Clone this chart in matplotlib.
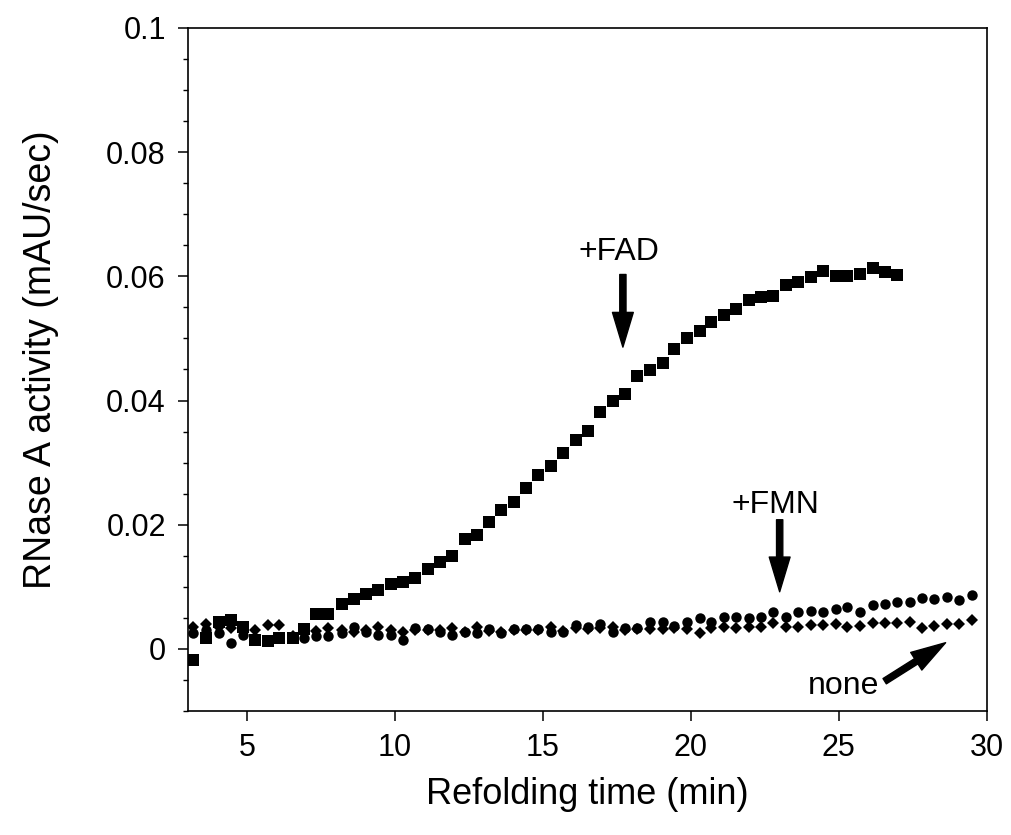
import matplotlib
matplotlib.use("Agg")
import matplotlib.pyplot as plt
from matplotlib.ticker import MultipleLocator

plt.rcParams['font.family'] = ['Liberation Sans', 'DejaVu Sans']

# sampling times (min)
time = [3.16, 3.61, 4.04, 4.45, 4.85, 5.26, 5.69, 6.08, 6.54, 6.93,
        7.32, 7.74, 8.20, 8.60, 9.01, 9.43, 9.86, 10.27, 10.68, 11.10,
        11.51, 11.93, 12.35, 12.77, 13.19, 13.58, 14.01, 14.44, 14.83, 15.26,
        15.69, 16.11, 16.52, 16.94, 17.36, 17.77, 18.19, 18.61, 19.04, 19.44,
        19.86, 20.29, 20.69, 21.11, 21.54, 21.96, 22.36, 22.79, 23.20, 23.62,
        24.05, 24.48, 24.89, 25.29, 25.71, 26.14, 26.55, 26.98, 27.40, 27.81,
        28.23, 28.65, 29.07, 29.49]

# +FAD (squares), stops at ~27 min
fad = [-0.0018, 0.0017, 0.0044, 0.0047, 0.0036, 0.0015, 0.0012, 0.0018, 0.0018, 0.0032,
       0.0056, 0.0056, 0.0073, 0.0081, 0.0088, 0.0095, 0.0104, 0.0108, 0.0115, 0.0129,
       0.0140, 0.0150, 0.0177, 0.0184, 0.0205, 0.0223, 0.0237, 0.0259, 0.0280, 0.0294,
       0.0316, 0.0336, 0.0351, 0.0382, 0.0400, 0.0410, 0.0440, 0.0449, 0.0460, 0.0483,
       0.0501, 0.0512, 0.0526, 0.0538, 0.0548, 0.0562, 0.0567, 0.0568, 0.0586, 0.0591,
       0.0599, 0.0609, 0.0601, 0.0601, 0.0604, 0.0613, 0.0607, 0.0602]

# +FMN (circles)
fmn = [0.0025, 0.0030, 0.0025, 0.0009, 0.0022, 0.0018, 0.0012, 0.0019, 0.0018, 0.0018,
       0.0020, 0.0020, 0.0025, 0.0036, 0.0028, 0.0023, 0.0022, 0.0015, 0.0034, 0.0032,
       0.0028, 0.0023, 0.0028, 0.0025, 0.0032, 0.0025, 0.0032, 0.0032, 0.0032, 0.0027,
       0.0027, 0.0039, 0.0036, 0.0040, 0.0027, 0.0034, 0.0034, 0.0044, 0.0043, 0.0037,
       0.0044, 0.0050, 0.0043, 0.0052, 0.0052, 0.0049, 0.0052, 0.0059, 0.0052, 0.0060,
       0.0061, 0.0059, 0.0064, 0.0067, 0.0059, 0.0071, 0.0073, 0.0075, 0.0076, 0.0082,
       0.0081, 0.0084, 0.0078, 0.0087]

# none (diamonds)
none = [0.0036, 0.0040, 0.0036, 0.0034, 0.0033, 0.0031, 0.0039, 0.0039, 0.0020, 0.0025,
        0.0029, 0.0034, 0.0030, 0.0028, 0.0030, 0.0036, 0.0030, 0.0028, 0.0030, 0.0030,
        0.0031, 0.0034, 0.0027, 0.0036, 0.0029, 0.0028, 0.0030, 0.0031, 0.0030, 0.0036,
        0.0029, 0.0033, 0.0032, 0.0033, 0.0035, 0.0031, 0.0032, 0.0032, 0.0032, 0.0034,
        0.0032, 0.0025, 0.0033, 0.0036, 0.0034, 0.0036, 0.0036, 0.0041, 0.0036, 0.0036,
        0.0039, 0.0039, 0.0040, 0.0035, 0.0037, 0.0041, 0.0042, 0.0042, 0.0044, 0.0034,
        0.0037, 0.0040, 0.0040, 0.0047]

x_ticks = [5, 10, 15, 20, 25, 30]
y_ticks = [0, 0.02, 0.04, 0.06, 0.08, 0.1]
y_tick_labels = ['0', '0.02', '0.04', '0.06', '0.08', '0.1']

fig = plt.figure(figsize=(10.11, 8.35), dpi=100)
ax = fig.add_axes([0.186, 0.1485, 0.79, 0.818])

ax.plot(time[:len(fad)], fad, 's', color='black', ms=8.3, mew=0)
ax.plot(time, fmn, 'o', color='black', ms=7.5, mew=0)
ax.plot(time, none, 'D', color='black', ms=5.8, mew=0)

ax.set_xlim(3, 30)
ax.set_ylim(-0.01, 0.1)
ax.set_xticks(x_ticks)
ax.set_yticks(y_ticks)
ax.set_yticklabels(y_tick_labels)
ax.yaxis.set_minor_locator(MultipleLocator(0.005))
ax.tick_params(axis='both', which='major', direction='out', length=7, width=1.1, labelsize=22, pad=9)
ax.tick_params(axis='y', which='minor', direction='out', length=3.5, width=1)
for s in ax.spines.values():
    s.set_linewidth(1.2)

ax.set_xlabel('Refolding time (min)', fontsize=26, labelpad=10)
ax.set_ylabel('RNase A activity (mAU/sec)', fontsize=27)
ax.yaxis.set_label_coords(-0.162, 0.515)

arrow = dict(facecolor='black', edgecolor='black', width=4.5, headwidth=15, headlength=25, shrink=0)
ax.annotate('', xy=(17.70, 0.0486), xytext=(17.70, 0.0603), arrowprops=arrow)
ax.text(17.56, 0.0639, '+FAD', fontsize=23, ha='center', va='center')
ax.annotate('', xy=(23.0, 0.0092), xytext=(23.0, 0.0208), arrowprops=arrow)
ax.text(22.86, 0.0232, '+FMN', fontsize=23, ha='center', va='center')
ax.annotate('', xy=(28.61, 0.0010), xytext=(26.55, -0.0052), arrowprops=arrow)
ax.text(25.16, -0.0059, 'none', fontsize=23, ha='center', va='center')

fig.savefig('out.png', dpi=100)
